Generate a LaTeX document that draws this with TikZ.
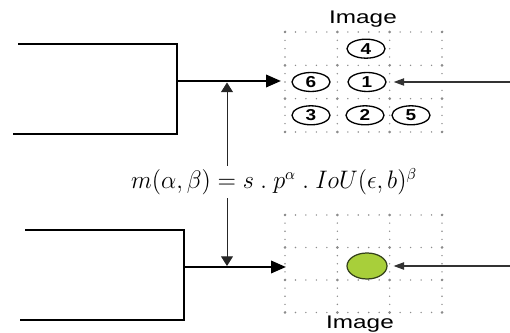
\documentclass[tikz,border=0pt]{standalone}
\usepackage{fontspec}
\setmainfont{Liberation Sans}
\usepackage{graphicx}
\usetikzlibrary{arrows.meta,positioning,shapes.geometric,calc}
\definecolor{dotgray}{HTML}{8C8C8C}
\definecolor{limefill}{HTML}{A8CF3A}
\definecolor{limeedge}{HTML}{33401A}
\tikzset{
  bracket/.style ={line width=1.2pt,black},
  feed/.style    ={-{Triangle[length=8.5pt,width=7pt]},line width=1.4pt},
  probe/.style   ={-{Triangle[length=6pt,width=4.2pt]},line width=0.7pt,black!80},
  link/.style    ={-{Triangle[length=5.5pt,width=6.8pt]},line width=0.55pt,black!85},
  cell/.style    ={draw,ellipse,line width=0.75pt,minimum width=0.76cm,minimum height=0.38cm,inner sep=0pt,
                   font=\fontsize{9}{10}\selectfont\bfseries},
  target/.style  ={draw=limeedge,fill=limefill,ellipse,line width=0.7pt,minimum width=0.8cm,minimum height=0.52cm},
  caption/.style ={font=\fontsize{10.4}{12}\selectfont,anchor=base},
  formula/.style ={fill=white,inner xsep=1pt,inner ysep=1.5pt,font=\fontsize{13.5}{15}\selectfont}
}
\newcommand{\widen}[2][1.2]{\scalebox{#1}[1]{#2}}
% dotted grid: left, top, width, height
\newcommand{\dotgrid}[4]{%
  \foreach \r in {0,...,3}
    \foreach \i in {0,...,15}
      \fill[dotgray] ({#1+\i*#3/15},{#2+\r*#4/3}) circle (0.45pt);
  \foreach \c in {0,...,3}
    \foreach \j in {0,...,12}
      \fill[dotgray] ({#1+\c*#3/3},{#2+\j*#4/12}) circle (0.45pt);
  \foreach \c in {0,...,3}
    \foreach \r in {0,...,3}
      \fill[dotgray] ({#1+\c*#3/3},{#2+\r*#4/3}) circle (0.85pt);
}

\begin{document}
\begin{tikzpicture}[x=0.02cm,y=-0.02cm]
    \useasboundingbox (0,0) rectangle (510,333);

    % grids
    \dotgrid{285}{32}{157}{100}
    \dotgrid{285}{215}{157}{97.5}

    % brackets
    \draw[bracket] (18,44) -| (177,134) -- (13,134);
    \draw[bracket] (25,230) -| (184,320) -- (20,320);
    \coordinate (topjoin) at (177,81);
    \coordinate (botjoin) at (184,267);
    \coordinate (topin)   at (281,81);
    \coordinate (botin)   at (286,267);

    % cells
    \node[cell] (c4) at (366,48.7)  {\widen{4}};
    \node[cell] (c6) at (311,82)    {\widen{6}};
    \node[cell] (c1) at (367,82)    {\widen{1}};
    \node[cell] (c3) at (311,115.3) {\widen{3}};
    \node[cell] (c2) at (365,115.3) {\widen{2}};
    \node[cell] (c5) at (411,115.3) {\widen{5}};
    \node[target] (hit) at (367,266) {};

    \node[caption] (imgtop) at (363,24)  {\widen[1.33]{Image}};
    \node[caption] (imgbot) at (360,329) {\widen[1.33]{Image}};

    \node[formula] (score) at (274,182)
      {\resizebox{5.72cm}{\height}{$m(\alpha,\beta) = s\ .\ p^{\alpha}\ .\ IoU(\epsilon,b)^{\beta}$}};

    % connectors
    \draw[feed] (topjoin) -- (topin);
    \draw[feed] (botjoin) -- (botin);
    \coordinate (splittop) at (227,82.5);
    \coordinate (splitbot) at (227,266);
    \draw[link] (score.north -| splittop) -- (splittop);
    \draw[link] (score.south -| splitbot) -- (splitbot);

    \coordinate (srcA) at (510,82);
    \coordinate (srcB) at (510,266);
    \draw[probe,shorten >=4pt] (srcA) -- (c1.east);
    \draw[probe,shorten >=3.4pt] (srcB) -- (hit.east);
\end{tikzpicture}
\end{document}
